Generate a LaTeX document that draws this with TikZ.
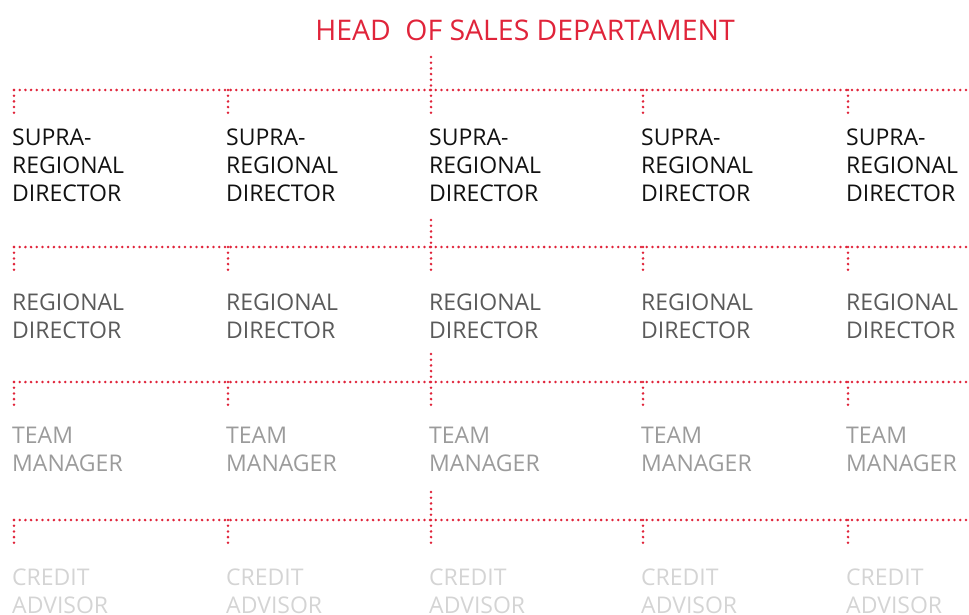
\documentclass[tikz,border=0pt]{standalone}
\usepackage{fontspec}
\setmainfont{Open Sans}
\definecolor{hred}{RGB}{224,36,58}
\definecolor{lv1}{RGB}{17,17,17}
\definecolor{lv2}{RGB}{90,90,90}
\definecolor{lv3}{RGB}{155,155,155}
\definecolor{lv4}{RGB}{212,212,212}
\begin{document}
\begin{tikzpicture}[x=1pt,y=-1pt,
  dots/.style={hred,line width=2.8pt,line cap=round,dash pattern=on 0pt off 5.7pt},
  role/.style={anchor=north west,inner sep=0pt,align=left,font=\fontsize{23}{28}\selectfont},
  roleA/.style={role,text=lv1},
  roleB/.style={role,text=lv2},
  roleC/.style={role,text=lv3},
  roleD/.style={role,text=lv4}]
\useasboundingbox (0,0) rectangle (969,615);
\node[anchor=base,inner sep=0pt,text=hred,font=\fontsize{28.4}{34}\selectfont] (head) at (525,41) {HEAD\ \ OF SALES DEPARTAMENT};
% bus coordinates
\coordinate (top1) at (431,57);  \coordinate (bus1) at (431,90);
\coordinate (top2) at (431,220); \coordinate (bus2) at (431,247);
\coordinate (top3) at (431,354); \coordinate (bus3) at (431,382);
\coordinate (top4) at (431,492); \coordinate (bus4) at (431,520);
\coordinate (left) at (14,0); \coordinate (right) at (969,0);
\foreach \x [count=\i] in {14,228,431,643,848}{
  \coordinate (col\i) at (\x,0);
  \node[roleA] (s\i) at (\x-2,129) {SUPRA-\\REGIONAL\\DIRECTOR};
  \node[roleB] (r\i) at (\x-2,294) {REGIONAL\\DIRECTOR};
  \node[roleC] (t\i) at (\x-2,427) {TEAM\\MANAGER};
  \node[roleD] (c\i) at (\x-2,569) {CREDIT\\ADVISOR};
  \foreach \k in {1,2,3,4}{
    \draw[dots] (col\i |- bus\k) -- ++(0,27);
  }
}
\foreach \k in {1,2,3,4}{
  \draw[dots] (top\k) -- (bus\k);
  \draw[dots] (left |- bus\k) -- (right |- bus\k);
}
\end{tikzpicture}
\end{document}
